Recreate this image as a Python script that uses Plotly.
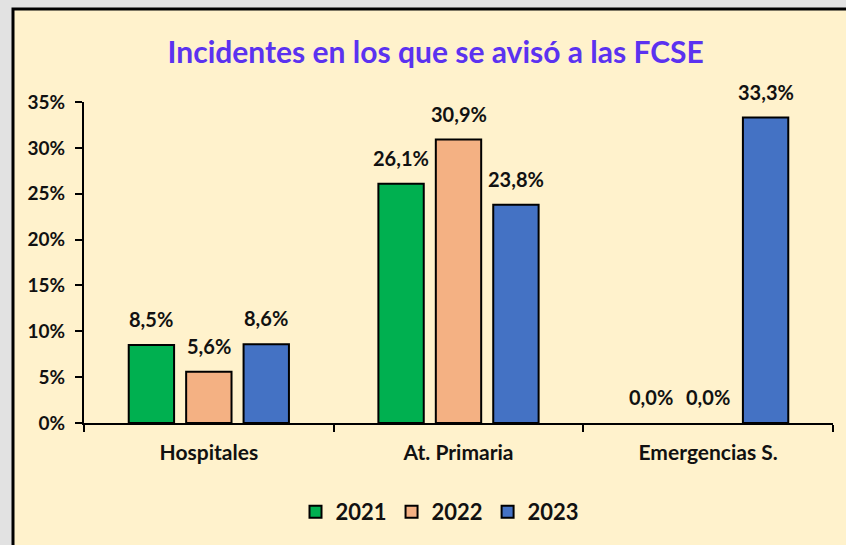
import plotly.graph_objects as go

categories = ["Hospitales", "At. Primaria", "Emergencias S."]
years = ["2021", "2022", "2023"]
values_2021 = [8.5, 26.1, 0.0]
values_2022 = [5.6, 30.9, 0.0]
values_2023 = [8.6, 23.8, 33.3]
colors = ["#00B050", "#F4B183", "#4472C4"]

FONT = "Lato, 'Open Sans', sans-serif"

def fmt(v):
    return f"{v:.1f}%".replace(".", ",")

L, R, T, B = 84, 13, 102, 122
W, H = 846, 545
pw, ph = W - L - R, H - T - B
BARGAP = 0.31
BARGROUPGAP = 0.21

fig = go.Figure()
series = [values_2021, values_2022, values_2023]
for yr, vals, col in zip(years, series, colors):
    fig.add_trace(go.Bar(
        name=yr, x=categories, y=vals,
        marker=dict(color=col, line=dict(color="black", width=[2 if v > 0 else 0 for v in vals])),
        cliponaxis=False,
    ))

# data labels as annotations (a little further above the bars than plotly's default pad)
cat_px = pw / len(categories)
slot_px = cat_px * (1 - BARGAP) / len(years)
for i, vals in enumerate(series):
    shift = (i - (len(years) - 1) / 2) * slot_px
    for c, v in zip(categories, vals):
        fig.add_annotation(x=c, y=v, text=fmt(v), showarrow=False, xshift=shift, yshift=12,
                           yanchor="bottom", xanchor="center",
                           font=dict(family=FONT, size=20, color="#111111", weight="bold"))

def px2x(px):
    return (px - L) / pw

def py2y(py):
    return (H - B - py) / ph

fig.add_shape(type="rect", xref="paper", yref="paper",
              x0=px2x(13), x1=px2x(870), y0=py2y(570), y1=py2y(9),
              fillcolor="#FFF2CC", line=dict(color="black", width=3), layer="below")

fig.update_layout(
    width=W, height=H,
    margin=dict(l=L, r=R, t=T, b=B, autoexpand=False),
    paper_bgcolor="#E2E2E2", plot_bgcolor="rgba(0,0,0,0)",
    barmode="group", bargap=BARGAP, bargroupgap=BARGROUPGAP,
    title=dict(text="Incidentes en los que se avisó a las FCSE", x=0.515, xanchor="center",
               y=1 - 52 / H, yanchor="middle",
               font=dict(family=FONT, size=30, color="#5B32F0", weight="bold")),
    legend=dict(orientation="h", x=px2x(440), xanchor="center", y=py2y(512), yanchor="middle",
                font=dict(family=FONT, size=22, color="#111111", weight="bold"),
                bgcolor="rgba(0,0,0,0)", itemwidth=30, traceorder="normal"),
    showlegend=True,
    xaxis=dict(showline=True, linecolor="black", linewidth=2, ticks="outside", tickson="boundaries",
               ticklen=7, tickwidth=2, tickcolor="black", showgrid=False, automargin=False,
               tickfont=dict(family=FONT, size=21, color="#111111", weight="bold"),
               ticklabelstandoff=10),
    yaxis=dict(range=[0, 35], dtick=5, ticksuffix="%", showline=True, linecolor="black", linewidth=2,
               ticks="outside", ticklen=7, tickwidth=2, tickcolor="black", showgrid=False,
               zeroline=False, automargin=False,
               tickfont=dict(family=FONT, size=19, color="#111111", weight="bold"),
               ticklabelstandoff=6),
)

fig.write_html("out.html", config={"displayModeBar": False},
               post_script="document.body.style.margin='0';document.body.style.background='#E2E2E2';")
